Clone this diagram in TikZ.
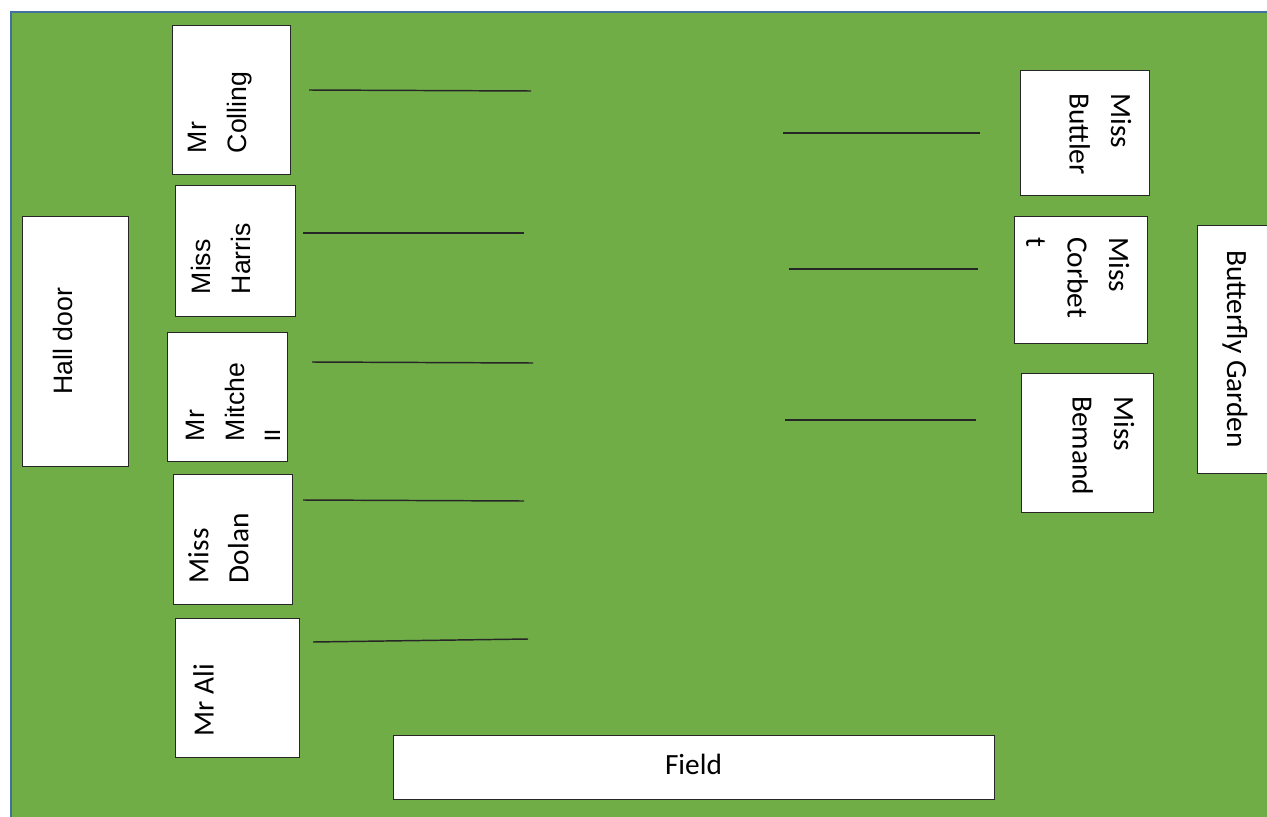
\documentclass[tikz,border=0pt]{standalone}
\usepackage{fontspec}
\setmainfont{Liberation Sans}
\newfontfamily\calfont{Carlito}
\usetikzlibrary{calc}

\definecolor{grassgreen}{HTML}{70AD47}
\definecolor{edgeblue}{HTML}{41719C}

\tikzset{
  room/.style 2 args={draw=black!85, line width=1.1pt, fill=white, inner sep=0pt,
    anchor=north west, minimum width=#1*0.75pt, minimum height=#2*0.75pt},
  upname/.style={rotate=90, anchor=north west, align=left, inner sep=0pt,
    font=\fontsize{20}{30}\selectfont},
  downname/.style={rotate=-90, anchor=north west, align=left, inner sep=0pt,
    font=\calfont\fontsize{22}{31}\selectfont},
  rowline/.style={draw=black!85, line width=1.1pt}
}

\begin{document}
\begin{tikzpicture}[x=0.75pt, y=-0.75pt]
	\clip (0,0) rectangle (1267,817);
	% grass
	\draw [edgeblue, line width=2pt, fill=grassgreen] (11,12) rectangle (1290,840);
	% left classes
	\node [room={118}{149}] (colling) at (172,25) {};
	\node [room={120}{131}] (harris) at (175,185) {};
	\node [room={120}{129}] (mitchell) at (167,332) {};
	\node [room={119}{130}] (dolan) at (173,474) {};
	\node [room={124}{139}] (ali) at (175,618) {};
	\node [upname] (collingtxt) at ($(colling.south west)+(16,-22)$) {Mr\\Colling};
	\node [upname] (harristxt) at ($(harris.south west)+(16,-23)$) {Miss\\Harris};
	\begin{scope}
		\clip (167,332) rectangle (279,461);
		\node [upname] (mitchelltxt) at ($(mitchell.south west)+(19,-21)$) {Mr\\Mitche\\ll};
	\end{scope}
	\node [upname, font=\calfont\fontsize{22}{30}\selectfont] (dolantxt) at ($(dolan.south west)+(15,-22)$) {Miss\\Dolan};
	\node [upname, font=\calfont\fontsize{22}{30}\selectfont] (alitxt) at ($(ali.south west)+(18,-22)$) {Mr Ali};
	% hall door and field
	\node [room={106}{250}] (hall) at (22,216) {};
	\node [rotate=90, anchor=base, font=\fontsize{20}{24}\selectfont] (halltxt) at (72,341) {Hall door};
	\node [room={601}{64}] (field) at (393,735) {};
	\node [anchor=base, font=\calfont\fontsize{22}{26}\selectfont] (fieldtxt) at (693.5,774) {Field};
	% right classes
	\node [room={129}{125}] (buttler) at (1020,70) {};
	\node [room={133}{127}] (corbett) at (1014,216) {};
	\node [room={132}{139}] (bemand) at (1021,373) {};
	\node [downname] (buttlertxt) at ($(buttler.north east)+(-19,23)$) {Miss\\Buttler};
	\node [downname] (corbetttxt) at ($(corbett.north east)+(-19,21)$) {Miss\\Corbet\\t};
	\node [downname] (bemandtxt) at ($(bemand.north east)+(-20,23)$) {Miss\\Bemand};
	\node [room={90}{248}] (garden) at (1197,225) {};
	\node [rotate=-90, anchor=base, font=\calfont\fontsize{22}{26}\selectfont] (gardentxt) at (1227,349) {Butterfly Garden};
	% lines
	\draw [rowline] (309,90) -- (531,91);
	\draw [rowline] (303,233) -- (524,233);
	\draw [rowline] (312,362) -- (533,363);
	\draw [rowline] (303,500) -- (524,501);
	\draw [rowline] (313,642) -- (528,639);
	\draw [rowline] (783,133) -- (980,133);
	\draw [rowline] (789,269) -- (978,269);
	\draw [rowline] (785,420) -- (976,420);
\end{tikzpicture}
\end{document}
